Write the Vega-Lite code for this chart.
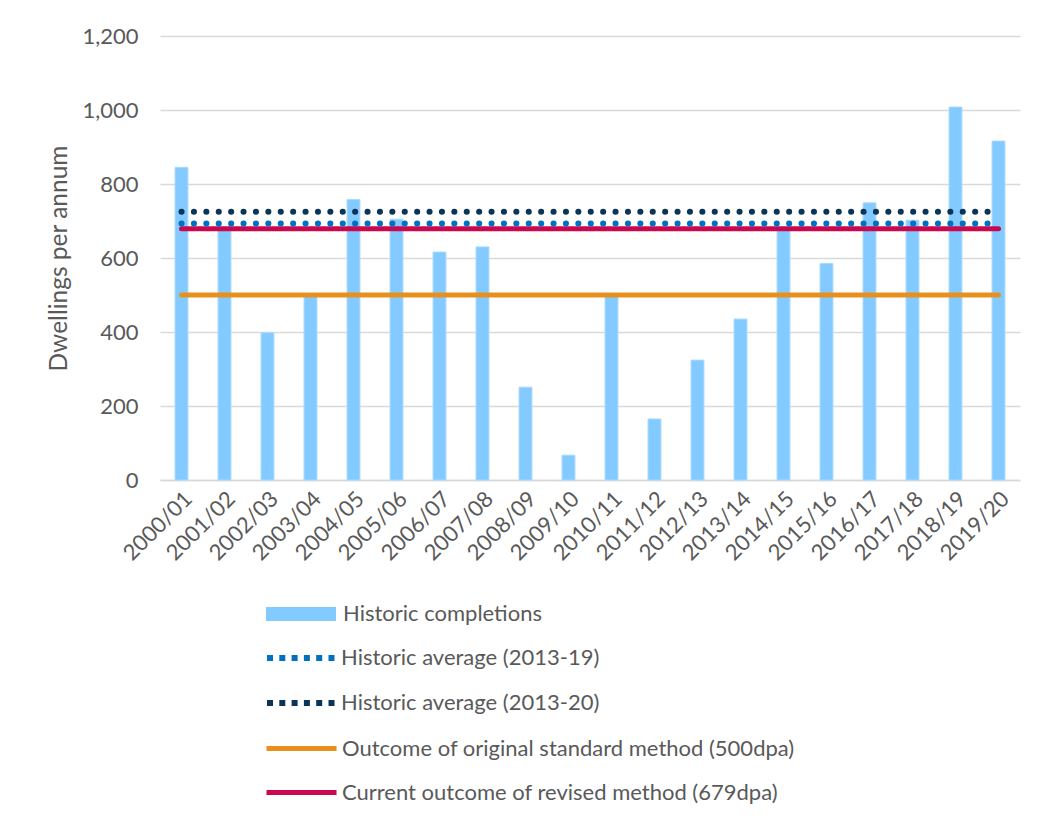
{
  "$schema": "https://vega.github.io/schema/vega-lite/v6.json",
  "width": 860,
  "height": 444,
  "autosize": {"type": "none"},
  "padding": {"left": 160, "top": 36, "right": 21, "bottom": 343},
  "background": "white",
  "config": {
    "view": {"stroke": null},
    "font": "Lato",
    "axis": {
      "labelFont": "Lato",
      "labelColor": "#595959",
      "labelFontSize": 22,
      "titleFont": "Lato",
      "titleColor": "#595959",
      "titleFontWeight": "normal",
      "gridColor": "#D9D9D9",
      "gridWidth": 1.5,
      "domainColor": "#D9D9D9",
      "domainWidth": 1.5,
      "ticks": false
    },
    "legend": {
      "title": null,
      "orient": "none",
      "direction": "vertical",
      "padding": 0,
      "labelFont": "Lato",
      "labelFontSize": 22,
      "labelColor": "#595959",
      "labelLimit": 700,
      "labelOffset": 56,
      "symbolSize": 400,
      "symbolOpacity": 1,
      "rowPadding": 20
    }
  },
  "datasets": {
    "completions": [
      {"year": "2000/01", "dwellings": 845, "series": "Historic completions"},
      {"year": "2001/02", "dwellings": 678, "series": "Historic completions"},
      {"year": "2002/03", "dwellings": 398, "series": "Historic completions"},
      {"year": "2003/04", "dwellings": 497, "series": "Historic completions"},
      {"year": "2004/05", "dwellings": 758, "series": "Historic completions"},
      {"year": "2005/06", "dwellings": 705, "series": "Historic completions"},
      {"year": "2006/07", "dwellings": 616, "series": "Historic completions"},
      {"year": "2007/08", "dwellings": 630, "series": "Historic completions"},
      {"year": "2008/09", "dwellings": 251, "series": "Historic completions"},
      {"year": "2009/10", "dwellings": 67, "series": "Historic completions"},
      {"year": "2010/11", "dwellings": 497, "series": "Historic completions"},
      {"year": "2011/12", "dwellings": 165, "series": "Historic completions"},
      {"year": "2012/13", "dwellings": 324, "series": "Historic completions"},
      {"year": "2013/14", "dwellings": 435, "series": "Historic completions"},
      {"year": "2014/15", "dwellings": 680, "series": "Historic completions"},
      {"year": "2015/16", "dwellings": 585, "series": "Historic completions"},
      {"year": "2016/17", "dwellings": 749, "series": "Historic completions"},
      {"year": "2017/18", "dwellings": 702, "series": "Historic completions"},
      {"year": "2018/19", "dwellings": 1008, "series": "Historic completions"},
      {"year": "2019/20", "dwellings": 916, "series": "Historic completions"}
    ],
    "averages": [
      {"series": "Historic average (2013-19)", "dwellings": 693, "from": "2000/01", "to": "2019/20"},
      {"series": "Historic average (2013-20)", "dwellings": 725, "from": "2000/01", "to": "2019/20"}
    ],
    "outcomes": [
      {"series": "Outcome of original standard method (500dpa)", "dwellings": 500, "from": "2000/01", "to": "2019/20"},
      {"series": "Current outcome of revised method (679dpa)", "dwellings": 679, "from": "2000/01", "to": "2019/20"}
    ]
  },
  "layer": [
    {
      "data": {"name": "completions"},
      "mark": {"type": "bar", "width": {"band": 0.3}, "stroke": "#A8DAFF", "strokeWidth": 1},
      "encoding": {
        "x": {
          "field": "year",
          "type": "nominal",
          "sort": null,
          "scale": {"paddingInner": 0, "paddingOuter": 0},
          "axis": {"title": null, "labelAngle": -45, "labelPadding": 8, "grid": false, "domain": true}
        },
        "y": {
          "field": "dwellings",
          "type": "quantitative",
          "scale": {"domain": [0, 1200], "nice": false},
          "axis": {
            "title": "Dwellings per annum",
            "titleFontSize": 24.5,
            "titlePadding": 10,
            "values": [0, 200, 400, 600, 800, 1000, 1200],
            "format": ",d",
            "labelPadding": 22,
            "domain": false
          }
        },
        "fill": {
          "field": "series",
          "type": "nominal",
          "scale": {"domain": ["Historic completions"], "range": ["#82CAFF"]},
          "legend": {
            "legendX": 105,
            "legendY": 567,
            "symbolType": "M-1,-0.7H6V0.7H-1Z",
            "symbolStrokeWidth": 0
          }
        }
      }
    },
    {
      "data": {"name": "outcomes"},
      "mark": {"type": "rule", "strokeWidth": 5, "strokeCap": "round"},
      "encoding": {
        "x": {"field": "from", "type": "nominal", "sort": null},
        "x2": {"field": "to"},
        "y": {"field": "dwellings", "type": "quantitative"},
        "color": {
          "field": "series",
          "type": "nominal",
          "sort": null,
          "scale": {
            "domain": ["Outcome of original standard method (500dpa)", "Current outcome of revised method (679dpa)"],
            "range": ["#E8901E", "#C8094F"]
          },
          "legend": {
            "legendX": 104,
            "legendY": 700,
            "labelOffset": 53,
            "symbolType": "M-1,0H6",
            "symbolStrokeWidth": 5
          }
        }
      }
    },
    {
      "data": {"name": "averages"},
      "mark": {"type": "rule", "strokeWidth": 6, "strokeCap": "round", "strokeDash": [0.1, 12.3]},
      "encoding": {
        "x": {"field": "from", "type": "nominal", "sort": null},
        "x2": {"field": "to"},
        "y": {"field": "dwellings", "type": "quantitative"},
        "stroke": {
          "field": "series",
          "type": "nominal",
          "sort": null,
          "scale": {
            "domain": ["Historic average (2013-19)", "Historic average (2013-20)"],
            "range": ["#0070C0", "#0B3558"]
          },
          "legend": {
            "legendX": 104,
            "legendY": 609,
            "labelOffset": 51,
            "symbolType": "M-1,0H6",
            "symbolStrokeWidth": 6,
            "symbolDash": [6, 6.3]
          }
        }
      }
    }
  ]
}
